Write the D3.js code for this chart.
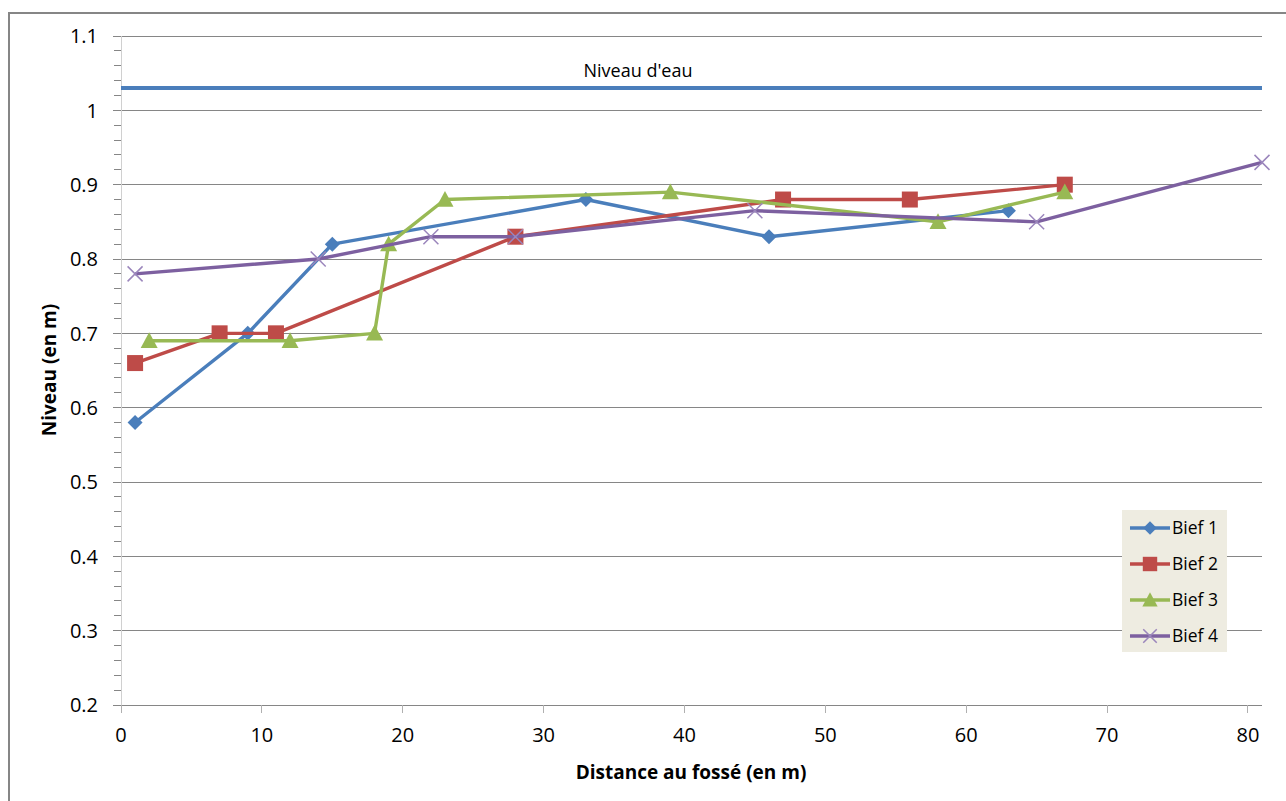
<!DOCTYPE html>
<html><head><meta charset="utf-8">
<script src="https://cdn.jsdelivr.net/npm/d3@7"></script>
<style>
body{margin:0;background:#fff;}
text{font-family:"Open Sans","Liberation Sans",sans-serif;}
</style></head>
<body><svg id="c" width="1286" height="801"></svg>
<script>
const seriesNames = ["Bief 1","Bief 2","Bief 3","Bief 4"];
const bief1X = [1, 9, 15, 33, 46, 63];
const bief1Y = [0.58, 0.70, 0.82, 0.88, 0.83, 0.865];
const bief2X = [1, 7, 11, 28, 47, 56, 67];
const bief2Y = [0.66, 0.70, 0.70, 0.83, 0.88, 0.88, 0.90];
const bief3X = [2, 12, 18, 19, 23, 39, 58, 67];
const bief3Y = [0.69, 0.69, 0.70, 0.82, 0.88, 0.89, 0.85, 0.89];
const bief4X = [1, 14, 22, 28, 45, 65, 81];
const bief4Y = [0.78, 0.80, 0.83, 0.83, 0.865, 0.85, 0.93];
const waterX = [0, 81];
const waterY = [1.03, 1.03];
const waterLabel = "Niveau d'eau";
const xTicks = [0,10,20,30,40,50,60,70,80];
const yTicks = [0.2,0.3,0.4,0.5,0.6,0.7,0.8,0.9,1.0,1.1];
const yTickLabels = ["0.2","0.3","0.4","0.5","0.6","0.7","0.8","0.9","1","1.1"];
const xTitle = "Distance au fossé (en m)";
const yTitle = "Niveau (en m)";

const colors = ["#4A7EBB","#BE4B48","#98B954","#7D60A0"];
const svg = d3.select("#c");
const L=121, R=1262, T=36, B=705;
const x = d3.scaleLinear().domain([0,81]).range([L,R]);
const y = d3.scaleLinear().domain([0.2,1.1]).range([B,T]);

// outer border
svg.append("rect").attr("x",9).attr("y",13).attr("width",1290).attr("height",800)
  .attr("fill","none").attr("stroke","#868686").attr("stroke-width",2);

// gridlines
svg.append("g").selectAll("line").data(yTicks).join("line")
  .attr("x1",L-8).attr("x2",R).attr("y1",d=>y(d)).attr("y2",d=>y(d))
  .attr("stroke","#868686").attr("stroke-width",1).attr("shape-rendering","crispEdges");
// minor ticks
const minor = d3.range(0.22,1.1,0.02).filter(v=>Math.abs(Math.round(v*10)-v*10)>0.05);
svg.append("g").selectAll("line").data(minor).join("line")
  .attr("x1",L-7).attr("x2",L).attr("y1",d=>y(d)).attr("y2",d=>y(d))
  .attr("stroke","#868686").attr("stroke-width",1).attr("shape-rendering","crispEdges");
// y axis line
svg.append("line").attr("x1",L).attr("x2",L).attr("y1",T).attr("y2",B+8)
  .attr("stroke","#D0D0D0").attr("stroke-width",1).attr("shape-rendering","crispEdges");
// x ticks
svg.append("g").selectAll("line").data(xTicks).join("line")
  .attr("x1",d=>x(d)).attr("x2",d=>x(d)).attr("y1",B).attr("y2",B+8)
  .attr("stroke","#B0B0B0").attr("stroke-width",1).attr("shape-rendering","crispEdges");

// tick labels
svg.append("g").selectAll("text").data(yTicks).join("text")
  .attr("x",98).attr("y",d=>y(d)).attr("dy","0.36em").attr("text-anchor","end")
  .attr("font-size",20).attr("fill","#000").text((d,i)=>yTickLabels[i]);
svg.append("g").selectAll("text").data(xTicks).join("text")
  .attr("x",d=>x(d)).attr("y",742).attr("text-anchor","middle")
  .attr("font-size",20).attr("fill","#000").text(d=>d);

// titles
svg.append("text").attr("x",691).attr("y",779).attr("text-anchor","middle")
  .attr("font-size",19).attr("font-weight","bold").text(xTitle);
svg.append("text").attr("transform","translate(56,370) rotate(-90)").attr("text-anchor","middle")
  .attr("font-size",19).attr("font-weight","bold").text(yTitle);

// water level
const straight = d3.line().x(d=>x(d[0])).y(d=>y(d[1]));
svg.append("path").datum(d3.zip(waterX,waterY)).attr("d",straight)
  .attr("fill","none").attr("stroke","#4A7EBB").attr("stroke-width",4);
svg.append("text").attr("x",638).attr("y",77).attr("text-anchor","middle")
  .attr("font-size",18).attr("fill","#000").text(waterLabel);

// series
const lineGen = d3.line().x(d=>x(d[0])).y(d=>y(d[1]));
const data = [d3.zip(bief1X,bief1Y), d3.zip(bief2X,bief2Y), d3.zip(bief3X,bief3Y), d3.zip(bief4X,bief4Y)];

function marker(g, type, cx, cy, color, scale){
  const s = scale||1;
  if(type===0){
    const r=7.5*s;
    g.append("path").attr("d",`M${cx},${cy-r}L${cx+r},${cy}L${cx},${cy+r}L${cx-r},${cy}Z`).attr("fill",color);
  } else if(type===1){
    const h=8*s;
    g.append("rect").attr("x",cx-h).attr("y",cy-h).attr("width",2*h).attr("height",2*h).attr("fill",color);
  } else if(type===2){
    const h=8.5*s;
    g.append("path").attr("d",`M${cx},${cy-h}L${cx+h},${cy+h*0.85}L${cx-h},${cy+h*0.85}Z`).attr("fill",color);
  } else {
    const h=7.5*s;
    g.append("path").attr("d",`M${cx-h},${cy-h}L${cx+h},${cy+h}M${cx-h},${cy+h}L${cx+h},${cy-h}`)
      .attr("stroke","#9B86BC").attr("stroke-width",1.5).attr("fill","none");
  }
}

data.forEach((pts,i)=>{
  const g = svg.append("g");
  g.append("path").datum(pts).attr("d",lineGen).attr("fill","none")
    .attr("stroke",colors[i]).attr("stroke-width",3.4).attr("stroke-linejoin","round");
  pts.forEach(p=>marker(g,i,x(p[0]),y(p[1]),colors[i]));
});

// legend
const lg = svg.append("g");
lg.append("rect").attr("x",1122).attr("y",510).attr("width",105).attr("height",142).attr("fill","#EEECE1");
seriesNames.forEach((n,i)=>{
  const yy = 528 + i*36;
  lg.append("line").attr("x1",1130).attr("x2",1170).attr("y1",yy).attr("y2",yy)
    .attr("stroke",colors[i]).attr("stroke-width",3.4);
  marker(lg,i,1150,yy,colors[i],0.9);
  lg.append("text").attr("x",1172).attr("y",yy).attr("dy","0.35em").attr("font-size",17.5).text(n);
});
</script></body></html>
